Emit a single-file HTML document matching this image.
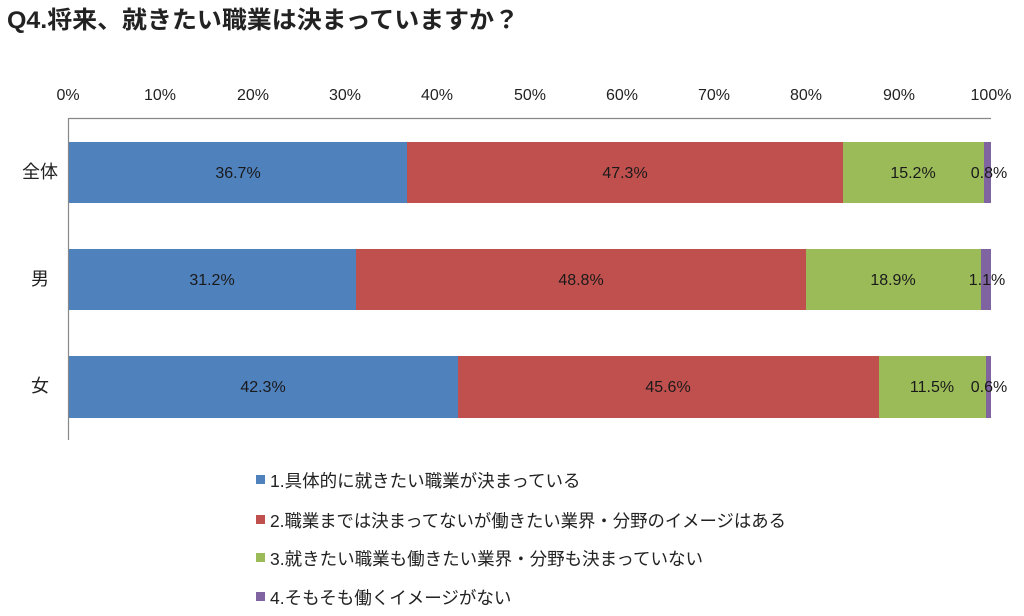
<!DOCTYPE html>
<html><head><meta charset="utf-8"><style>
body{margin:0;background:#fff;width:1024px;height:611px;overflow:hidden}
text{font-family:"Liberation Sans","Noto Sans CJK JP",sans-serif}
</style></head><body>
<svg width="1024" height="611" xmlns="http://www.w3.org/2000/svg">
<text x="7" y="28" font-size="24" font-weight="bold" fill="#222" textLength="512" lengthAdjust="spacingAndGlyphs">Q4.将来、就きたい職業は決まっていますか？</text>
<g font-size="16" fill="#222" text-anchor="middle">
<text x="68" y="100">0%</text><text x="160" y="100">10%</text><text x="253" y="100">20%</text><text x="345" y="100">30%</text><text x="437" y="100">40%</text><text x="530" y="100">50%</text><text x="622" y="100">60%</text><text x="714" y="100">70%</text><text x="806" y="100">80%</text><text x="899" y="100">90%</text><text x="991" y="100">100%</text>
</g>
<line x1="68" y1="118.5" x2="991" y2="118.5" stroke="#888" stroke-width="1.2"/>
<line x1="68.5" y1="118" x2="68.5" y2="440" stroke="#888" stroke-width="1.2"/>
<g>
<rect x="69" y="142" width="338" height="61" fill="#4f81bd"/>
<rect x="407" y="142" width="436" height="61" fill="#c0504d"/>
<rect x="843" y="142" width="141" height="61" fill="#9bbb59"/>
<rect x="984" y="142" width="7" height="61" fill="#8064a2"/>
<rect x="69" y="249" width="287" height="61" fill="#4f81bd"/>
<rect x="356" y="249" width="450" height="61" fill="#c0504d"/>
<rect x="806" y="249" width="175" height="61" fill="#9bbb59"/>
<rect x="981" y="249" width="10" height="61" fill="#8064a2"/>
<rect x="69" y="356" width="389" height="62" fill="#4f81bd"/>
<rect x="458" y="356" width="421" height="62" fill="#c0504d"/>
<rect x="879" y="356" width="107" height="62" fill="#9bbb59"/>
<rect x="986" y="356" width="5" height="62" fill="#8064a2"/>
</g>
<g font-size="16" fill="#1a1a1a" text-anchor="middle">
<text x="238" y="178">36.7%</text><text x="625" y="178">47.3%</text><text x="913" y="178">15.2%</text><text x="989" y="178">0.8%</text>
<text x="212" y="285">31.2%</text><text x="581" y="285">48.8%</text><text x="893" y="285">18.9%</text><text x="987" y="285">1.1%</text>
<text x="263" y="392">42.3%</text><text x="668" y="392">45.6%</text><text x="932" y="392">11.5%</text><text x="989" y="392">0.6%</text>
</g>
<g font-size="18" fill="#222" text-anchor="middle">
<text x="40" y="178">全体</text><text x="40" y="285">男</text><text x="40" y="392">女</text>
</g>
<g font-size="17.5" fill="#222">
<rect x="256" y="475" width="9" height="9" fill="#4f81bd"/><text x="270" y="487">1.具体的に就きたい職業が決まっている</text>
<rect x="256" y="515" width="9" height="9" fill="#c0504d"/><text x="270" y="527" textLength="516" lengthAdjust="spacingAndGlyphs">2.職業までは決まってないが働きたい業界・分野のイメージはある</text>
<rect x="256" y="553" width="9" height="9" fill="#9bbb59"/><text x="270" y="565">3.就きたい職業も働きたい業界・分野も決まっていない</text>
<rect x="256" y="592" width="9" height="9" fill="#8064a2"/><text x="270" y="604">4.そもそも働くイメージがない</text>
</g>
</svg>
</body></html>
